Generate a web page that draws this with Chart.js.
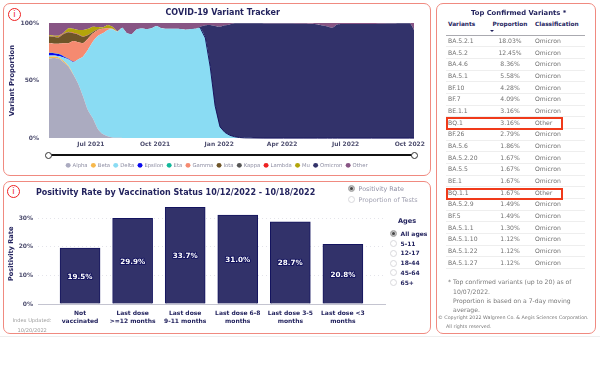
<!DOCTYPE html>
<html>
<head>
<meta charset="utf-8">
<script src="https://cdn.jsdelivr.net/npm/chart.js@4"></script>
<style>
  html, body { margin: 0; padding: 0; background: #fff; }
  body { width: 600px; height: 380px; position: relative; overflow: hidden; font-family: "DejaVu Sans", sans-serif; color: #1f1f5c; }
  .abs { position: absolute; white-space: nowrap; }
  .panel { position: absolute; box-sizing: border-box; border: 1px solid #f08a80; border-radius: 7px; }
  .info { position: absolute; width: 13px; height: 13px; box-sizing: border-box; border: 1.5px solid #ee2222; border-radius: 50%; color: #ee2222; font: 8.5px/10px "DejaVu Sans", sans-serif; text-align: center; }
  .title { font-weight: bold; color: #23235e; line-height: 12px; }
  canvas { position: absolute; }
  .radio { position: absolute; box-sizing: border-box; width: 7px; height: 7px; border: 1px solid #d8d8dc; border-radius: 50%; background: #fff; }
  .radio.on { background: #444; border-color: #bbb; box-shadow: inset 0 0 0 1px #ccc; }
  .rlabel { font-size: 6.4px; line-height: 10px; }
  #topTable { position: absolute; left: 446px; top: 19px; width: 139px; table-layout: fixed; border-collapse: collapse; font-size: 6.1px; color: #70707c; }
  #topTable th { height: 16px; padding: 0 0 6px 0; font-size: 5.8px; color: #23235e; text-align: left; border-bottom: 1px solid #aaaab0; box-sizing: border-box; }
  #topTable td { height: 11.68px; padding: 0; line-height: 10px; border-bottom: 1px solid #eeeeee; box-sizing: border-box; overflow: hidden; filter: grayscale(1); }
  #topTable .c1 { padding-left: 2px; }
  #topTable .c2 { text-align: center; }
  #topTable .c3 { padding-left: 5px; }
  .hl { position: absolute; box-sizing: border-box; left: 446px; width: 117px; border: 2px solid #f03a1a; }
  .note { color: #77778a; font-size: 6.1px; line-height: 8px; filter: grayscale(1); }
</style>
</head>
<body>
<div style="position:absolute;left:0;top:336px;width:600px;height:1px;background:#eeeeee"></div>

<div class="panel" style="left:3px;top:3px;width:428px;height:173px"></div>
<div class="panel" style="left:3px;top:181px;width:428px;height:153px"></div>
<div class="panel" style="left:436px;top:3px;width:160px;height:331px"></div>

<div class="info" style="left:8px;top:8px">i</div>
<div class="info" style="left:7px;top:185px">i</div>

<canvas id="variantChart" width="434" height="178" style="left:0;top:0"></canvas>
<canvas id="positivityChart" width="386" height="153" style="left:0;top:181px"></canvas>

<div class="abs title" style="left:165.5px;top:7px;font-size:8px">COVID-19 Variant Tracker</div>
<div class="abs title" style="left:36px;top:187px;font-size:8px">Positivity Rate by Vaccination Status 10/12/2022 - 10/18/2022</div>

<div class="abs" style="left:48px;top:154px;width:366px;height:2px;background:#111"></div>
<div class="abs" style="left:45px;top:151.5px;width:7px;height:7px;box-sizing:border-box;border:1px solid #333;border-radius:50%;background:#fff"></div>
<div class="abs" style="left:410.5px;top:151.5px;width:7px;height:7px;box-sizing:border-box;border:1px solid #333;border-radius:50%;background:#fff"></div>

<div class="radio on" style="left:347.5px;top:185px"></div>
<div class="abs rlabel" style="left:358.5px;top:184px;color:#8f8fa3">Positivity Rate</div>
<div class="radio" style="left:347.5px;top:196px"></div>
<div class="abs rlabel" style="left:358.5px;top:194.5px;color:#a0a0b0">Proportion of Tests</div>

<div class="abs title" style="left:398px;top:215px;font-size:6.6px">Ages</div>
<div id="ages"></div>

<div class="abs note" style="left:12.5px;top:316px;color:#9a9aa8;font-size:5.1px">Index Updated:</div>
<div class="abs note" style="left:17.5px;top:325.5px;color:#9a9aa8;font-size:5.1px">10/20/2022</div>

<div class="abs title" style="left:471px;top:7px;font-size:6.8px">Top Confirmed Variants *</div>
<table id="topTable">
  <colgroup><col style="width:44px"><col style="width:40px"><col style="width:55px"></colgroup>
  <thead><tr><th class="c1">Variants</th><th class="c2">Proportion</th><th class="c3">Classification</th></tr></thead>
  <tbody id="topRows"></tbody>
</table>
<div class="abs" style="left:490px;top:30px;width:0;height:0;border-left:2px solid transparent;border-right:2px solid transparent;border-top:2px solid #23235e"></div>
<div class="hl" style="top:116.5px;height:13.5px"></div>
<div class="hl" style="top:187.5px;height:12px"></div>

<div class="abs note" style="left:448px;top:278px">*</div>
<div class="abs note" style="left:453px;top:278px">Top confirmed variants (up to 20) as of</div>
<div class="abs note" style="left:453px;top:287.5px">10/07/2022.</div>
<div class="abs note" style="left:453px;top:297px">Proportion is based on a 7-day moving</div>
<div class="abs note" style="left:453px;top:306px">average.</div>
<div class="abs note" style="left:438px;top:314px;font-size:4.8px">© Copyright 2022 Walgreen Co. &amp; Aegis Sciences Corporation.</div>
<div class="abs note" style="left:446px;top:323px;font-size:4.8px">All rights reserved.</div>

<script>
// variant tracker data, weekly until Feb 2022, thinner after that
const sampleDates = ['2021-05-02','2021-05-09','2021-05-16','2021-05-23','2021-05-30','2021-06-06','2021-06-13','2021-06-20','2021-06-27','2021-07-04','2021-07-11','2021-07-18','2021-07-25','2021-08-01','2021-08-08','2021-08-15','2021-08-22','2021-08-29','2021-09-05','2021-09-12','2021-09-19','2021-09-26','2021-10-03','2021-10-10','2021-10-17','2021-10-24','2021-10-31','2021-11-07','2021-11-14','2021-11-21','2021-11-28','2021-12-05','2021-12-12','2021-12-19','2021-12-26','2022-01-02','2022-01-09','2022-01-16','2022-01-23','2022-01-30','2022-02-06','2022-03-06','2022-04-03','2022-05-01','2022-05-22','2022-06-05','2022-06-12','2022-06-19','2022-07-03','2022-08-07','2022-09-04','2022-10-01','2022-10-07'];
const alpha = [69,69.5,69,66,62,55,47,36,24,17,8,3.5,1.7,0.6,0.2,0.1,0,0,0,0,0,0,0,0,0,0,0,0,0,0,0,0,0,0,0,0,0,0,0,0,0,0,0,0,0,0,0,0,0,0,0,0,0];
const beta = [1.5,1.3,1,1,0.8,0.3,0.1,0,0,0,0,0,0,0,0,0,0,0,0,0,0,0,0,0,0,0,0,0,0,0,0,0,0,0,0,0,0,0,0,0,0,0,0,0,0,0,0,0,0,0,0,0,0];
const delta = [1.2,1,1.3,3,5.5,10.7,21.4,35,53,67,80.7,87.5,92.3,93.9,92.3,95.8,91,90.5,94.5,95.3,94.7,95.5,97.4,95.5,95,95,95,94.8,94.2,94.8,95,95.5,87,62,28,9.8,5,2.5,1.2,0.5,0.2,0,0,0,0,0,0,0,0,0,0,0,0];
const epsilon = [2.2,2,1.7,1,0.6,0.3,0.1,0,0,0,0,0,0,0,0,0,0,0,0,0,0,0,0,0,0,0,0,0,0,0,0,0,0,0,0,0,0,0,0,0,0,0,0,0,0,0,0,0,0,0,0,0,0];
const eta = [0.2,0.2,0.2,0.2,0.1,0,0,0,0,0,0,0,0,0,0,0,0,0,0,0,0,0,0,0,0,0,0,0,0,0,0,0,0,0,0,0,0,0,0,0,0,0,0,0,0,0,0,0,0,0,0,0,0];
const gamma = [8.2,8,8.8,11.1,13.3,18,14.7,11.5,9.5,7,5.3,4,1.5,0.5,0.3,0,0,0,0,0,0,0,0,0,0,0,0,0,0,0,0,0,0,0,0,0,0,0,0,0,0,0,0,0,0,0,0,0,0,0,0,0,0];
const iota = [6.2,5.8,5.5,8.2,9.7,6.7,6.6,5.5,3,1.2,0.5,0.2,0.1,0,0,0,0,0,0,0,0,0,0,0,0,0,0,0,0,0,0,0,0,0,0,0,0,0,0,0,0,0,0,0,0,0,0,0,0,0,0,0,0];
const kappa = [0.2,0.2,0.2,0.2,0.2,0.2,0.2,0.1,0.1,0.1,0,0,0,0,0,0,0,0,0,0,0,0,0,0,0,0,0,0,0,0,0,0,0,0,0,0,0,0,0,0,0,0,0,0,0,0,0,0,0,0,0,0,0];
const lambda = [0.3,0.3,0.3,0.3,0.3,0.3,0.2,0.2,0.2,0.2,0.1,0.1,0.1,0.1,0,0,0,0,0,0,0,0,0,0,0,0,0,0,0,0,0,0,0,0,0,0,0,0,0,0,0,0,0,0,0,0,0,0,0,0,0,0,0];
const mu = [0.6,0.7,1,0.5,2.9,3.5,3.6,5.7,5.2,4.3,1.9,0.9,2.6,1.7,0.2,0,0,0,0,0,0,0,0,0,0,0,0,0,0,0,0,0,0,0,0,0,0,0,0,0,0,0,0,0,0,0,0,0,0,0,0,0,0];
const omicron = [0,0,0,0,0,0,0,0,0,0,0,0,0,0,0,0,0,0,0,0,0,0,0,0,0,0,0,0,0,0,0,1.3,11,36.3,69.4,87,93,96.3,98.5,99.2,99.5,99.6,99.5,99.3,98.8,97,96,98.8,99.2,99.2,99.6,99.7,94];
const other = [10.4,11,11,8.5,4.6,5,6.1,6,5,3.2,3.5,3.8,1.7,3.2,7,4.1,9,9.5,5.5,4.7,5.3,4.5,2.6,4.5,5,5,5,5.2,5.8,5.2,5,3.2,2,1.7,2.6,3.2,2,1.2,0.3,0.3,0.3,0.4,0.5,0.7,1.2,3,4,1.2,0.8,0.8,0.4,0.3,6];

const xTickDates = ['2021-07-01','2021-10-01','2022-01-01','2022-04-01','2022-07-01','2022-10-01'];
const xTickLabels = ['Jul 2021','Oct 2021','Jan 2022','Apr 2022','Jul 2022','Oct 2022'];

// positivity data
const vaxGroups = [['Not','vaccinated'],['Last dose','>=12 months'],['Last dose','9-11 months'],['Last dose 6-8','months'],['Last dose 3-5','months'],['Last dose <3','months']];
const positivity = [19.5,29.9,33.7,31.0,28.7,20.8];
const positivityTicks = [0,10,20,30];
const ageGroups = ['All ages','5-11','12-17','18-44','45-64','65+'];

// table data
const topVariants = ['BA.5.2.1','BA.5.2','BA.4.6','BA.5.1','BF.10','BF.7','BE.1.1','BQ.1','BF.26','BA.5.6','BA.5.2.20','BA.5.5','BE.1','BQ.1.1','BA.5.2.9','BF.5','BA.5.1.1','BA.5.1.10','BA.5.1.22','BA.5.1.27'];
const topProportions = ['18.03%','12.45%','8.36%','5.58%','4.28%','4.09%','3.16%','3.16%','2.79%','1.86%','1.67%','1.67%','1.67%','1.67%','1.49%','1.49%','1.30%','1.12%','1.12%','1.12%'];
const topClasses = ['Omicron','Omicron','Omicron','Omicron','Omicron','Omicron','Omicron','Other','Omicron','Omicron','Omicron','Omicron','Omicron','Other','Omicron','Omicron','Omicron','Omicron','Omicron','Omicron'];

const navy = '#23235e';
const tickGray = '#4d4d6e';
const day = s => Date.parse(s + 'T00:00:00Z');

function area(label, values, color, idx) {
  return {
    label: label,
    data: values.map((v, i) => ({ x: day(sampleDates[i]), y: v })),
    backgroundColor: color,
    borderColor: color,
    borderWidth: 0,
    fill: idx === 0 ? 'origin' : '-1',
    pointRadius: 0,
    tension: 0.2
  };
}

const variantSets = [
  area('Alpha', alpha, '#ababc0', 0),
  area('Beta', beta, '#f7b84b', 1),
  area('Delta', delta, '#8adcf3', 2),
  area('Epsilon', epsilon, '#0a0aee', 3),
  area('Eta', eta, '#12b89a', 4),
  area('Gamma', gamma, '#f58a70', 5),
  area('Iota', iota, '#6f5528', 6),
  area('Kappa', kappa, '#555555', 7),
  area('Lambda', lambda, '#ee2222', 8),
  area('Mu', mu, '#b3a50a', 9),
  area('Omicron', omicron, '#32326a', 10),
  area('Other', other, '#885584', 11)
];

new Chart(document.getElementById('variantChart'), {
  type: 'line',
  data: { datasets: variantSets },
  options: {
    responsive: false,
    animation: false,
    layout: { padding: { top: 23, right: 20 } },
    plugins: {
      tooltip: { enabled: false },
      legend: {
        position: 'bottom',
        labels: { usePointStyle: true, boxWidth: 3.5, boxHeight: 3.5, padding: 4, color: '#8d8da2', font: { size: 5.3, family: 'DejaVu Sans' } }
      }
    },
    scales: {
      x: {
        type: 'linear',
        min: day('2021-05-02'),
        max: day('2022-10-07'),
        afterBuildTicks: s => { s.ticks = xTickDates.map(d => ({ value: day(d) })); },
        afterFit: s => { s.height = 20.6; },
        grid: { display: false, drawTicks: false },
        border: { display: false },
        ticks: {
          autoSkip: false,
          maxRotation: 0,
          padding: 3,
          color: tickGray,
          font: { size: 6, weight: 'bold', family: 'DejaVu Sans' },
          callback: v => xTickLabels[xTickDates.findIndex(d => day(d) === v)]
        }
      },
      y: {
        stacked: true,
        min: 0,
        max: 100,
        afterFit: s => { s.width = 49; },
        grid: { display: false, drawTicks: false },
        border: { display: false },
        title: { display: true, text: 'Variant Proportion', color: navy, padding: { top: 8, bottom: 0 }, font: { size: 6.8, weight: 'bold', family: 'DejaVu Sans' } },
        ticks: {
          stepSize: 50,
          padding: 10,
          color: tickGray,
          font: { size: 6, weight: 'bold', family: 'DejaVu Sans' },
          callback: v => v + '%'
        }
      }
    }
  },
  plugins: [{
    id: 'legendShift',
    afterLayout(chart) { chart.legend.left += 10; chart.legend.right += 10; }
  }, {
    // dark edge where omicron takes over from delta
    id: 'omicronEdge',
    afterDatasetsDraw(chart) {
      const c = chart.ctx;
      const pts = chart.getDatasetMeta(2).data.slice(31);
      c.save();
      c.strokeStyle = '#16145e';
      c.lineWidth = 1;
      c.beginPath();
      pts.forEach((p, i) => { if (i === 0) c.moveTo(p.x, p.y); else c.lineTo(p.x, p.y); });
      c.lineTo(chart.chartArea.right, chart.chartArea.bottom);
      c.stroke();
      c.restore();
    }
  }]
});

new Chart(document.getElementById('positivityChart'), {
  type: 'bar',
  data: {
    datasets: [{
      data: positivity.map((v, i) => ({ x: i, y: v })),
      backgroundColor: '#32326a',
      borderColor: '#14145f',
      borderWidth: 1,
      barThickness: 40
    }]
  },
  options: {
    responsive: false,
    animation: false,
    layout: { padding: { top: 22.7 } },
    plugins: { legend: { display: false }, tooltip: { enabled: false } },
    scales: {
      x: {
        type: 'linear',
        offset: false,
        min: -0.8,
        max: 5.82,
        afterBuildTicks: s => { s.ticks = positivity.map((v, i) => ({ value: i })); },
        afterFit: s => { s.height = 30; },
        grid: { display: false, drawTicks: false },
        border: { color: '#c4c4d0' },
        ticks: {
          autoSkip: false,
          maxRotation: 0,
          padding: 5.5,
          color: navy,
          font: { size: 6, weight: 'bold', family: 'DejaVu Sans', lineHeight: 1.33 },
          callback: v => vaxGroups[v]
        }
      },
      y: {
        min: 0,
        max: 35,
        afterBuildTicks: s => { s.ticks = positivityTicks.map(v => ({ value: v })); },
        afterFit: s => { s.width = 38; },
        grid: { color: '#e4e4ea', drawTicks: false },
        border: { display: false, dash: [1, 3] },
        title: { display: true, text: 'Positivity Rate', color: navy, padding: { top: 7, bottom: 0 }, font: { size: 6.6, weight: 'bold', family: 'DejaVu Sans' } },
        ticks: {
          padding: 5,
          color: tickGray,
          font: { size: 6, weight: 'bold', family: 'DejaVu Sans' },
          callback: v => v + '%'
        }
      }
    }
  },
  plugins: [{
    id: 'barValues',
    afterDatasetsDraw(chart) {
      const c = chart.ctx;
      c.save();
      c.font = 'bold 7.2px "DejaVu Sans"';
      c.textAlign = 'center';
      c.textBaseline = 'middle';
      c.lineJoin = 'round';
      chart.getDatasetMeta(0).data.forEach((bar, i) => {
        const label = positivity[i].toFixed(1) + '%';
        const y = (bar.y + bar.base) / 2 + 1;
        c.lineWidth = 2;
        c.strokeStyle = '#14145f';
        c.strokeText(label, bar.x, y);
        c.fillStyle = '#fff';
        c.fillText(label, bar.x, y);
      });
      c.restore();
    }
  }]
});

document.getElementById('ages').innerHTML = ageGroups.map((a, i) => {
  const y = 233.7 + i * 9.8;
  return '<div class="radio' + (i === 0 ? ' on' : '') + '" style="left:389.5px;top:' + (y - 3.5) + 'px"></div>' +
    '<div class="abs rlabel" style="left:400.5px;top:' + (y - 5) + 'px;font-weight:bold;color:' + navy + ';font-size:6px">' + a + '</div>';
}).join('');

document.getElementById('topRows').innerHTML = topVariants.map((v, i) =>
  '<tr><td class="c1">' + v + '</td><td class="c2">' + topProportions[i] + '</td><td class="c3">' + topClasses[i] + '</td></tr>'
).join('');
</script>
</body>
</html>
